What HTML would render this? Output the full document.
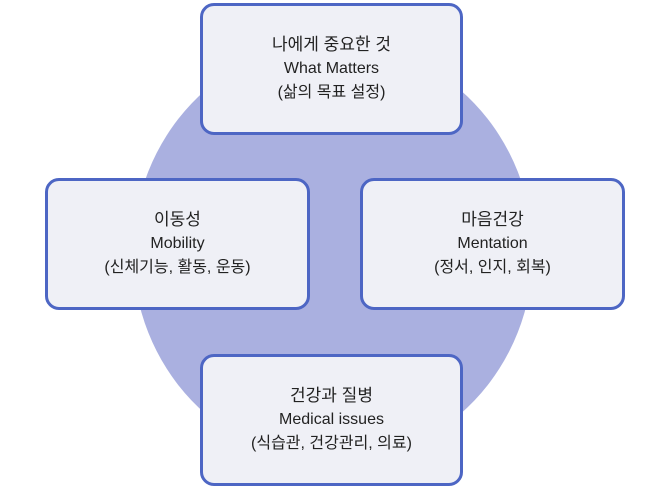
<!DOCTYPE html>
<html><head><meta charset="utf-8"><style>
body{margin:0;width:657px;height:487px;background:#fff;position:relative;overflow:hidden;font-family:"Liberation Sans","Noto Sans CJK KR",sans-serif;}
.b{position:absolute;box-sizing:border-box;border:3px solid #4d66c4;border-radius:14px;background:#eff0f6;display:flex;flex-direction:column;justify-content:center;align-items:center;text-align:center;color:#222;font-size:16px;line-height:24px;}
.b .k{font-size:17px;}
</style></head><body>
<svg width="657" height="487" style="position:absolute;left:0;top:0"><ellipse cx="333" cy="252" rx="200" ry="210" fill="#aab0e0"/></svg>
<div class="b" style="left:200px;top:3px;width:263px;height:132px"><div class="k">나에게 중요한 것</div><div>What Matters</div><div>(삶의 목표 설정)</div></div>
<div class="b" style="left:45px;top:178px;width:265px;height:132px"><div class="k">이동성</div><div>Mobility</div><div>(신체기능, 활동, 운동)</div></div>
<div class="b" style="left:360px;top:178px;width:265px;height:132px"><div class="k">마음건강</div><div>Mentation</div><div>(정서, 인지, 회복)</div></div>
<div class="b" style="left:200px;top:354px;width:263px;height:132px"><div class="k">건강과 질병</div><div>Medical issues</div><div>(식습관, 건강관리, 의료)</div></div>
</body></html>
